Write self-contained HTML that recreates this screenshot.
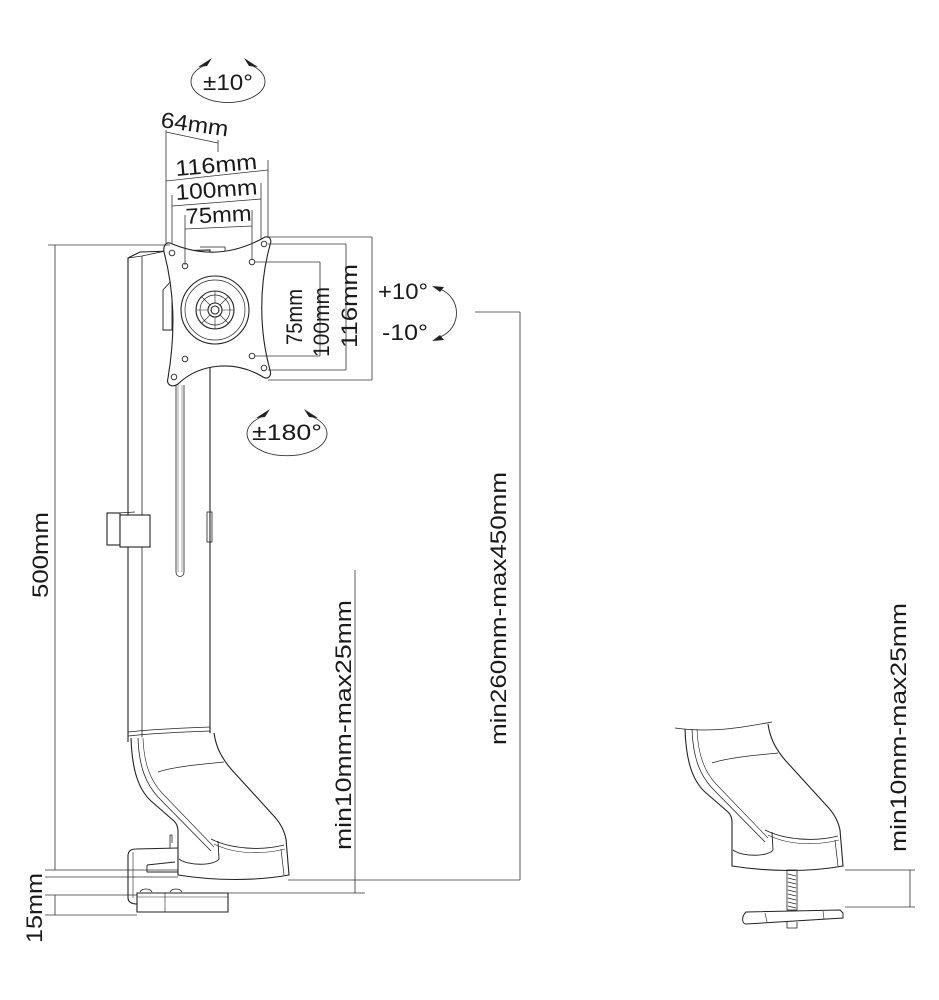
<!DOCTYPE html>
<html><head><meta charset="utf-8"><style>
html,body{margin:0;padding:0;background:#fff}
svg{display:block}
text{font-family:"Liberation Sans",sans-serif;fill:#1a1a1a}
</style></head><body>
<svg width="939" height="1000" viewBox="0 0 939 1000" xmlns="http://www.w3.org/2000/svg">
<defs>
<g id="base" fill="none" stroke="#222" stroke-width="1.1">
<path d="M685,729 C686,760 692,780 705,792 L728,812 C731,815 732,818 732,822 L732,866 C770,872 810,872 843,866 L840,830 C838,820 833,812 826,805 L785,760 C775,748 770,738 768,724" fill="#fff"/>
<path d="M692,729 C693,758 700,775 712,788 L765,842" stroke-width="0.8"/>
<path d="M697,729 C698,756 705,772 716,784 L768,838" stroke-width="0.6"/>
<path d="M765,830 C785,840 815,842 838,836" stroke-width="0.9"/>
<path d="M768,835 C788,845 815,846 839,840" stroke-width="0.6"/>
<path d="M733,850 C742,857 768,857 773,850 L772,832" stroke-width="0.9"/>
<path d="M835,840 L838,866" stroke-width="0.7"/>
<path d="M712,763 C730,757 760,755 778,753" stroke-width="0.8"/>
</g>
</defs>

<!-- Pole -->
<g fill="none" stroke="#222" stroke-width="1.1">
<path d="M128,742 L128,258 L140,252 L210,250 L210,736"/>
<path d="M142,742 L142,256" stroke-width="0.8"/>
<path d="M128,258 L142,256 L170,250" stroke-width="0.8"/>
<path d="M176,385 L176,572 C176,578 184,578 184,572 L184,385" stroke-width="0.8"/>
<path d="M178,385 L178,572 M182,385 L182,572" stroke-width="0.4"/>
<rect x="107" y="513" width="13" height="32" fill="#fff"/>
<rect x="120" y="515" width="30" height="32" fill="#fff"/>
<path d="M118,513 L135,512" stroke-width="0.8"/>
<rect x="207" y="512" width="5" height="30" stroke-width="0.8"/>
<path d="M128,732 C155,729 185,728 210,727 M128,736 C155,733 185,732 210,731" stroke-width="0.8"/>
</g>
<use href="#base" transform="translate(-554,9)"/>
<!-- clamp -->
<g fill="none" stroke="#222" stroke-width="1.1">
<path d="M178,848 L136,849 C130,849 128,852 128,856 L128,898 C128,902 132,904 137,904"/>
<path d="M133,852 L133,898" stroke-width="0.6"/>
<path d="M172,843 L172,835 L170,835 L170,848" stroke-width="0.8"/>
<path d="M147,865 L175,862 M147,865 L147,872 L178,872" stroke-width="0.9"/>
<path d="M137,893 L137,912 L228,912 L228,893 L137,893 Z" fill="#fff"/>
<path d="M165,893 L165,912 M137,897 L228,897" stroke-width="0.6"/>
<path d="M140,892 C142,888 150,888 152,892 M170,892 C172,888 180,888 182,892" stroke-width="0.8"/>
</g>

<!-- Plate -->
<g fill="none" stroke="#222" stroke-width="1.1">
<path d="M200,247 L225,247 L225,254 L200,254" stroke-width="0.8"/>
<path d="M163,290 L172,280 L172,330 L163,330 Z" fill="#fff" stroke-width="0.9"/>
<path d="M170,243 C200,256 232,256 265,237 C270,236 272,240 270,245 C259,285 259,330 270,370 C272,376 268,380 263,377 C235,360 200,363 178,384 C172,388 166,385 168,378 C176,330 174,290 164,252 C163,246 166,242 170,243 Z" fill="#fff"/>
<circle cx="215" cy="310" r="34"/>
<circle cx="215" cy="310" r="30" stroke-width="0.7"/>
<circle cx="215" cy="310" r="19"/>
<circle cx="215" cy="310" r="15" stroke-width="0.7"/>
<path d="M202,297 L228,323 M228,297 L202,323 M215,291 L215,329 M196,310 L234,310" stroke-width="0.6"/>
<circle cx="215" cy="310" r="7" fill="#fff"/>
<circle cx="215" cy="310" r="4"/>
<g stroke-width="0.9">
<circle cx="172" cy="253" r="2.8"/><circle cx="264" cy="244" r="2.8"/>
<circle cx="264" cy="368" r="2.8"/><circle cx="174" cy="377" r="2.8"/>
<circle cx="185" cy="266" r="2.8"/><circle cx="252" cy="262" r="2.8"/>
<circle cx="252" cy="356" r="2.8"/><circle cx="185" cy="359" r="2.8"/>
</g>
</g>

<!-- right figure -->
<use href="#base"/>
<g fill="none" stroke="#222" stroke-width="1">
<path d="M675,728 C710,733 740,728 772,722" stroke-width="0.8"/>
<rect x="787" y="870" width="10" height="40" stroke-width="0.8"/>
<path d="M788,874 L796,876 M788,878 L796,880 M788,882 L796,884 M788,886 L796,888 M788,890 L796,892 M788,894 L796,896 M788,898 L796,900 M788,902 L796,904 M788,906 L796,908" stroke-width="0.7"/>
<path d="M746,912 L840,910 L843,913 L843,918 L746,924 C742,924 741,917 746,912 Z" fill="#fff"/>
<path d="M765,913 L767,922 M823,911 L824,919" stroke-width="0.6"/>
<path d="M787,922 L787,928 L797,928 L797,922" stroke-width="0.8"/>
</g>

<!-- dimension lines -->
<g fill="none" stroke="#333" stroke-width="0.8">
<path d="M48,245 L170,245 M55,245 L55,870 M45,870 L178,870"/>
<path d="M45,877 L178,877 M45,895 L137,895 M45,915 L137,915 M55,895 L55,915"/>
<path d="M355,570 L355,893 M228,893 L365,893 M288,880 L520,880"/>
<path d="M520,312 L520,880 M475,312 L520,312"/>
<path d="M910,870 L910,907 M845,870 L915,870 M845,907 L915,907"/>
<path d="M166,130 L166,243 M166,132 L218,143 M218,140 L218,152"/>
<path d="M166,181 L268,170 M268,160 L268,237"/>
<path d="M172,195 L172,243 M172,206 L261,199 M261,183 L261,240"/>
<path d="M185,215 L185,265 M185,229 L252,226 M252,210 L252,260"/>
<path d="M268,237 L372,237 M372,237 L372,380 M268,380 L372,380"/>
<path d="M268,244 L346,244 M346,244 L346,370 M268,370 L346,370"/>
<path d="M255,262 L320,262 M320,262 L320,356 M255,356 L320,356"/>
</g>

<!-- rotation arcs -->
<g fill="none" stroke="#333" stroke-width="0.9">
<path d="M203,66 A37,21 0 1,0 253,66"/>
<path d="M261,417 A40,22 0 1,0 313,417"/>
<path d="M440,289 C462,298 462,328 440,337"/>
</g>
<g fill="#222">
<path d="M198,67 L212,58 L207,66 Z"/>
<path d="M258,67 L244,58 L249,66 Z"/>
<path d="M256,418 L270,409 L265,417 Z"/>
<path d="M318,418 L304,409 L309,417 Z"/>
<path d="M432,286 L444,287 L440,292 Z"/>
<path d="M432,341 L444,340 L440,335 Z"/>
</g>

<!-- text -->
<g font-size="22">
<text x="228" y="90" text-anchor="middle" textLength="50" lengthAdjust="spacingAndGlyphs">±10°</text>
<text x="287" y="440" text-anchor="middle" textLength="70" lengthAdjust="spacingAndGlyphs">±180°</text>
<text x="378" y="299" textLength="50" lengthAdjust="spacingAndGlyphs">+10°</text>
<text x="382" y="340" textLength="46" lengthAdjust="spacingAndGlyphs">-10°</text>
<text transform="translate(160,127) rotate(8)" textLength="68" lengthAdjust="spacingAndGlyphs">64mm</text>
<text transform="translate(176,176) rotate(-5)" textLength="82" lengthAdjust="spacingAndGlyphs">116mm</text>
<text transform="translate(176,200) rotate(-4)" textLength="82" lengthAdjust="spacingAndGlyphs">100mm</text>
<text transform="translate(186,224) rotate(-3)" textLength="66" lengthAdjust="spacingAndGlyphs">75mm</text>
<text transform="translate(302,345) rotate(-90)" textLength="56" lengthAdjust="spacingAndGlyphs">75mm</text>
<text transform="translate(329,357) rotate(-90)" textLength="70" lengthAdjust="spacingAndGlyphs">100mm</text>
<text transform="translate(357,348) rotate(-90)" textLength="84" lengthAdjust="spacingAndGlyphs">116mm</text>
<text transform="translate(48,598) rotate(-90)" textLength="86" lengthAdjust="spacingAndGlyphs">500mm</text>
<text transform="translate(42,943) rotate(-90)" textLength="70" lengthAdjust="spacingAndGlyphs">15mm</text>
<text transform="translate(351,850) rotate(-90)" textLength="250" lengthAdjust="spacingAndGlyphs">min10mm-max25mm</text>
<text transform="translate(506,745) rotate(-90)" textLength="273" lengthAdjust="spacingAndGlyphs">min260mm-max450mm</text>
<text transform="translate(906,852) rotate(-90)" textLength="249" lengthAdjust="spacingAndGlyphs">min10mm-max25mm</text>
</g>
</svg>
</body></html>
